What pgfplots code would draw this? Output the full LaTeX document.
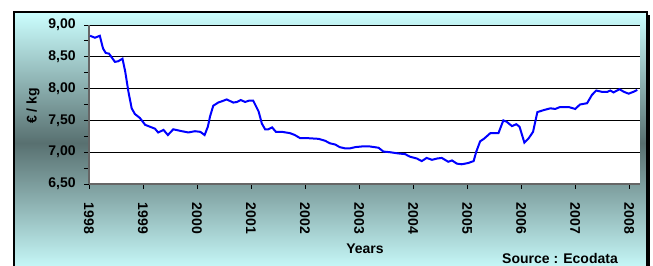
\documentclass[border=0pt]{standalone}
\usepackage{pgfplots}
\pgfplotsset{compat=1.18}
\usepackage{fontspec}
\setmainfont{Liberation Sans}
\definecolor{cyanlight}{RGB}{204,255,255}
\definecolor{slatedark}{RGB}{88,112,112}
\definecolor{lineblue}{RGB}{0,0,255}
\begin{document}
\begin{tikzpicture}[x=0.75pt,y=0.75pt]
\useasboundingbox (0,0) rectangle (653,266);
% shadow
\fill[black] (17,-10) rectangle (650,251);
% gradient frame
\shade[top color=cyanlight, bottom color=cyanlight, middle color=slatedark] (14,-8) rectangle (647,254);
\draw[black, line width=0.8pt] (14,-8) -- (14,254) -- (647,254) -- (647,-8);
\begin{axis}[
  at={(66.75pt,61.5pt)}, anchor=south west,
  scale only axis,
  width=413.25pt, height=119.25pt,
  xmin=1998, xmax=2008.2,
  ymin=6.5, ymax=9,
  axis background/.style={fill=white},
  axis x line*=bottom, axis y line*=left,
  axis line style={draw=gray!80!black, line width=0.8pt, -},
  xtick={1998,1999,...,2008},
  minor x tick num=3,
  ytick={6.5,7,...,9},
  minor y tick num=1,
  tick align=outside,
  major tick length=3.5pt, minor tick length=3.5pt,
  tick style={black, line width=0.6pt},
  ymajorgrids,
  grid style={black, line width=0.7pt},
  /pgf/number format/assume math mode=true,
  xticklabel={\pgfmathprintnumber[1000 sep={}]{\tick}},
  x tick label style={/pgf/number format/1000 sep={}, yshift=-7pt, rotate=-90, anchor=west, font=\bfseries\fontsize{10.5}{12}\selectfont},
  y tick label style={/pgf/number format/.cd, fixed, fixed zerofill, precision=2, use comma, /tikz/.cd, font=\bfseries\fontsize{10.5}{12}\selectfont, xshift=-3pt},
  clip=false,
]
\addplot[lineblue, line width=1.5pt] coordinates {
(1998.02,8.83) (1998.11,8.80) (1998.20,8.83) (1998.26,8.63) (1998.31,8.56)
(1998.37,8.55) (1998.48,8.42) (1998.54,8.43) (1998.62,8.47) (1998.67,8.27)
(1998.73,7.95) (1998.79,7.69) (1998.85,7.60) (1998.94,7.54) (1999.04,7.43)
(1999.13,7.40) (1999.22,7.37) (1999.28,7.31) (1999.38,7.35) (1999.46,7.27)
(1999.56,7.36) (1999.72,7.33) (1999.84,7.31) (1999.96,7.33) (2000.06,7.32)
(2000.14,7.27) (2000.20,7.40) (2000.24,7.56) (2000.30,7.73) (2000.39,7.78)
(2000.49,7.81) (2000.55,7.83) (2000.67,7.78) (2000.74,7.79) (2000.81,7.82)
(2000.89,7.79) (2000.96,7.81) (2001.04,7.81) (2001.14,7.64) (2001.20,7.45)
(2001.26,7.36) (2001.32,7.36) (2001.39,7.39) (2001.46,7.32) (2001.57,7.32)
(2001.72,7.30) (2001.81,7.27) (2001.91,7.22) (2002.06,7.22) (2002.25,7.21)
(2002.37,7.18) (2002.46,7.14) (2002.56,7.12) (2002.64,7.08) (2002.74,7.06)
(2002.83,7.06) (2002.93,7.08) (2003.05,7.09) (2003.20,7.09) (2003.36,7.07)
(2003.45,7.01) (2003.57,7.00) (2003.73,6.98) (2003.85,6.97) (2003.94,6.93)
(2004.07,6.90) (2004.16,6.86) (2004.25,6.91) (2004.35,6.88) (2004.44,6.90)
(2004.53,6.91) (2004.65,6.85) (2004.72,6.87) (2004.81,6.82) (2004.90,6.81)
(2005.02,6.83) (2005.12,6.86) (2005.17,7.01) (2005.24,7.17) (2005.31,7.21)
(2005.43,7.30) (2005.52,7.30) (2005.58,7.30) (2005.67,7.50) (2005.73,7.48)
(2005.83,7.41) (2005.91,7.44) (2005.97,7.40) (2006.06,7.15) (2006.14,7.22)
(2006.22,7.32) (2006.30,7.63) (2006.41,7.66) (2006.54,7.69) (2006.63,7.68)
(2006.72,7.71) (2006.88,7.71) (2007.00,7.68) (2007.09,7.75) (2007.22,7.77)
(2007.31,7.90) (2007.39,7.97) (2007.49,7.95) (2007.60,7.95) (2007.65,7.97)
(2007.71,7.94) (2007.82,7.99) (2007.90,7.95) (2007.99,7.92) (2008.08,7.95)
(2008.15,7.98)
};
\end{axis}
\node[font=\bfseries\fontsize{10.5}{12}\selectfont, rotate=90] at (33,160) {€ / kg};
\node[font=\bfseries\fontsize{10.5}{12}\selectfont] at (365,17) {Years};
\node[font=\bfseries\fontsize{10.5}{12}\selectfont] at (560,7) {Source : Ecodata};
\end{tikzpicture}
\end{document}
